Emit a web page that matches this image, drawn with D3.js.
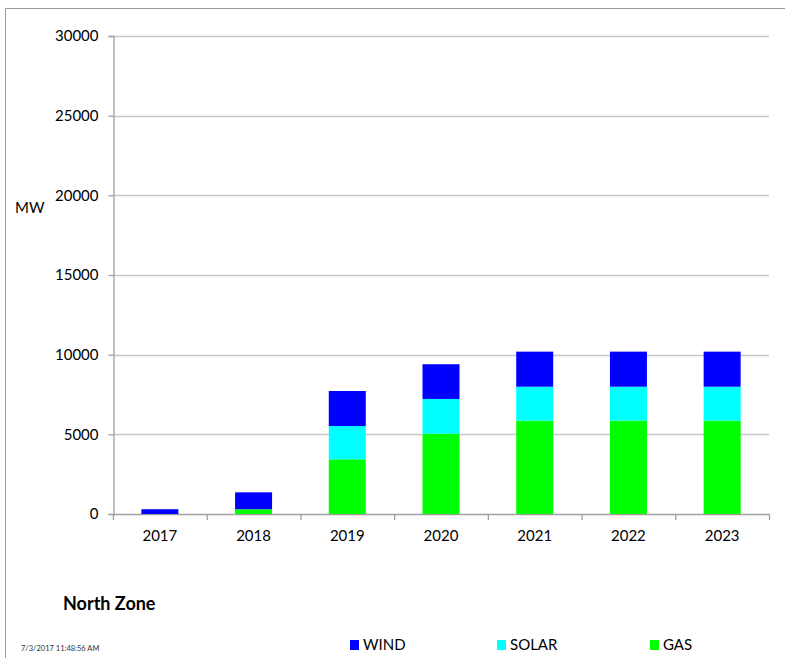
<!DOCTYPE html>
<html><head><meta charset="utf-8">
<script src="https://cdn.jsdelivr.net/npm/d3@7"></script>
<style>body{margin:0;background:#fff}svg{display:block}text{font-family:Lato,"Open Sans",sans-serif}</style>
</head><body>
<script>
const years = ["2017","2018","2019","2020","2021","2022","2023"];
const gas   = [0, 300, 3430, 5040, 5860, 5860, 5860];
const solar = [0, 0, 2090, 2180, 2130, 2130, 2130];
const wind  = [300, 1060, 2200, 2180, 2200, 2200, 2200];
const yTicks = [0, 5000, 10000, 15000, 20000, 25000, 30000];
const seriesNames = ["GAS","SOLAR","WIND"];
const colors = {GAS:"#00ff00", SOLAR:"#00ffff", WIND:"#0000ff"};

(function(){
const W = 788, H = 658;
const svg = d3.select("body").append("svg").attr("width", W).attr("height", H);

// frame
svg.append("line").attr("x1",5.5).attr("x2",5.5).attr("y1",8.5).attr("y2",H).attr("stroke","#9a9a9a");
svg.append("line").attr("x1",5.5).attr("x2",785).attr("y1",8.5).attr("y2",8.5).attr("stroke","#9a9a9a");

const pL = 113, pR = 769, pT = 36, pB = 514;
const x = d3.scaleBand().domain(years).range([pL, pR]).paddingInner(0.6).paddingOuter(0.3);
const y = d3.scaleLinear().domain([0, 30000]).range([pB, pT]);

// gridlines
svg.append("g").selectAll("line").data(yTicks.filter(d=>d>0)).join("line")
  .attr("x1", pL).attr("x2", pR)
  .attr("y1", d=>Math.round(y(d))+0.5).attr("y2", d=>Math.round(y(d))+0.5)
  .attr("stroke","#c8c8c8").attr("stroke-width",1.3);

// y axis
const yAxis = svg.append("g").attr("transform",`translate(${pL+0.5},0)`)
  .call(d3.axisLeft(y).tickValues(yTicks).tickFormat(d3.format("d")).tickSize(5).tickPadding(10));
yAxis.select(".domain").attr("stroke","#a0a0a0").attr("stroke-width",1.3);
yAxis.selectAll(".tick line").attr("stroke","#a0a0a0").attr("stroke-width",1.3);
yAxis.selectAll(".tick text").attr("font-size",15).attr("fill","#000").attr("font-family","Lato,'Open Sans',sans-serif");

// x axis
const xAxis = svg.append("g").attr("transform",`translate(0,${pB+0.5})`)
  .call(d3.axisBottom(x).tickSize(0).tickPadding(16));
xAxis.select(".domain").remove();
svg.append("line").attr("x1",pL).attr("x2",pR).attr("y1",pB+0.5).attr("y2",pB+0.5).attr("stroke","#a0a0a0").attr("stroke-width",1.3);
svg.append("g").selectAll("line").data(d3.range(years.length+1)).join("line")
  .attr("x1", i=>pL + i*(pR-pL)/years.length + 0.5).attr("x2", i=>pL + i*(pR-pL)/years.length + 0.5)
  .attr("y1", pB).attr("y2", pB+6).attr("stroke","#a0a0a0").attr("stroke-width",1.3);
xAxis.selectAll(".tick text").attr("font-size",15).attr("fill","#000").attr("font-family","Lato,'Open Sans',sans-serif");

// stacked bars
const table = years.map((yr,i)=>({year:yr, GAS:gas[i], SOLAR:solar[i], WIND:wind[i]}));
const stack = d3.stack().keys(seriesNames)(table);
const bw = 37;
svg.append("g").selectAll("g").data(stack).join("g").attr("fill", s=>colors[s.key])
  .selectAll("rect").data(s=>s.filter(d=>d[1]-d[0]>0)).join("rect")
  .attr("x", d=>x(d.data.year) + x.bandwidth()/2 - bw/2)
  .attr("width", bw)
  .attr("y", d=>y(d[1]))
  .attr("height", d=>y(d[0]) - y(d[1]));

// MW label
svg.append("text").attr("x",15).attr("y",213).attr("font-size",15).text("MW");

// title
svg.append("text").attr("x",63).attr("y",610).attr("font-size",18).attr("font-weight","bold").text("North Zone");

// timestamp
svg.append("text").attr("x",21).attr("y",651).attr("font-size",7.5).attr("fill","#333").text("7/3/2017 11:48:56 AM");

// legend
const legendX = {WIND:350, SOLAR:497, GAS:650};
const leg = svg.append("g").selectAll("g").data(["WIND","SOLAR","GAS"]).join("g")
  .attr("transform", d=>`translate(${legendX[d]},640)`);
leg.append("rect").attr("width",9).attr("height",10).attr("fill", d=>colors[d]);
leg.append("text").attr("x",13).attr("y",10).attr("font-size",15).text(d=>d);
})();
</script>
</body></html>
